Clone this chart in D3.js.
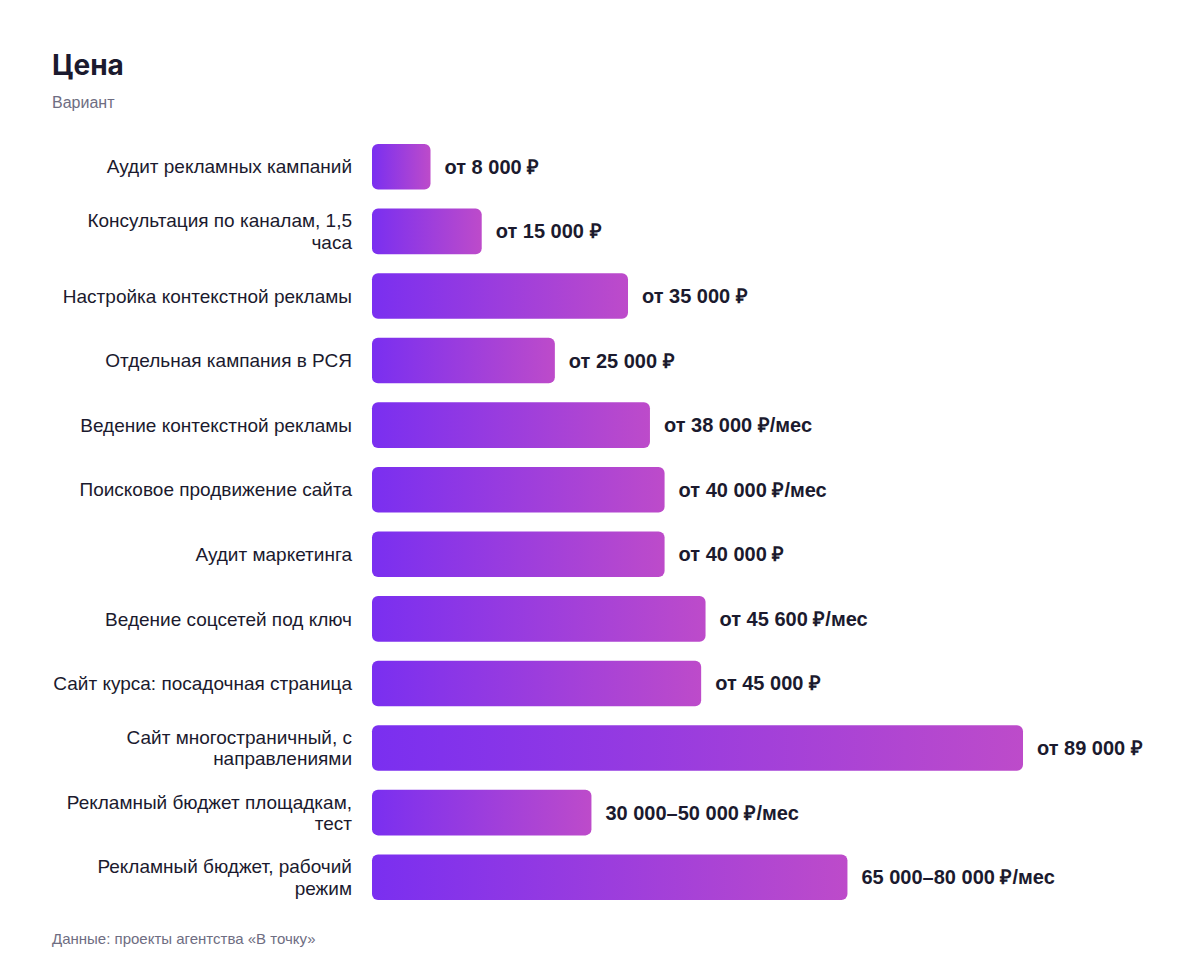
<!DOCTYPE html>
<html>
<head>
<meta charset="utf-8">
<script src="https://cdn.jsdelivr.net/npm/d3@7"></script>
<style>
  html, body { margin: 0; padding: 0; background: #ffffff; }
  svg { display: block; }
</style>
</head>
<body>
<svg id="chart" width="1200" height="968"></svg>
<script>
// ---- Data ----
const categories = [
  "Аудит рекламных кампаний",
  "Консультация по каналам, 1,5 часа",
  "Настройка контекстной рекламы",
  "Отдельная кампания в РСЯ",
  "Ведение контекстной рекламы",
  "Поисковое продвижение сайта",
  "Аудит маркетинга",
  "Ведение соцсетей под ключ",
  "Сайт курса: посадочная страница",
  "Сайт многостраничный, с направлениями",
  "Рекламный бюджет площадкам, тест",
  "Рекламный бюджет, рабочий режим"
];
const values = [8000, 15000, 35000, 25000, 38000, 40000, 40000, 45600, 45000, 89000, 30000, 65000];
const valueLabels = [
  "от 8 000 ₽",
  "от 15 000 ₽",
  "от 35 000 ₽",
  "от 25 000 ₽",
  "от 38 000 ₽/мес",
  "от 40 000 ₽/мес",
  "от 40 000 ₽",
  "от 45 600 ₽/мес",
  "от 45 000 ₽",
  "от 89 000 ₽",
  "30 000–50 000 ₽/мес",
  "65 000–80 000 ₽/мес"
];
const title = "Цена";
const subtitle = "Вариант";
const source = "Данные: проекты агентства «В точку»";

// ---- Layout ----
const svg = d3.select("#chart");
const plotLeft = 372, plotTop = 135, plotBottom = 909;
const barAreaWidth = 651;

const x = d3.scaleLinear().domain([0, d3.max(values)]).range([0, barAreaWidth]);
const y = d3.scaleBand().domain(categories).range([plotTop, plotBottom]).paddingInner(0.295).paddingOuter(0.14);

const defs = svg.append("defs");
const grad = defs.append("linearGradient").attr("id", "barGrad")
  .attr("x1", "0%").attr("x2", "100%").attr("y1", "0%").attr("y2", "0%");
grad.append("stop").attr("offset", "0%").attr("stop-color", "#7a2ff0");
grad.append("stop").attr("offset", "100%").attr("stop-color", "#bd4bca");

svg.append("text").attr("x", 52).attr("y", 75)
  .attr("font-family", "Inter, 'Liberation Sans', sans-serif")
  .attr("font-weight", 700).attr("font-size", 28).attr("fill", "#1b1a2e").text(title);
svg.append("text").attr("x", 52).attr("y", 108)
  .attr("font-family", "'Liberation Sans', Arial, sans-serif")
  .attr("font-size", 16).attr("fill", "#6e6d82").text(subtitle);

const rows = categories.map((c, i) => ({ c, v: values[i], l: valueLabels[i] }));

const g = svg.append("g");
g.selectAll("rect.bar").data(rows).join("rect")
  .attr("class", "bar")
  .attr("x", plotLeft)
  .attr("y", d => y(d.c))
  .attr("width", d => x(d.v))
  .attr("height", y.bandwidth())
  .attr("rx", 6).attr("ry", 6)
  .attr("fill", "url(#barGrad)");

g.selectAll("text.val").data(rows).join("text")
  .attr("class", "val")
  .attr("x", d => plotLeft + x(d.v) + 14)
  .attr("y", d => y(d.c) + y.bandwidth() / 2)
  .attr("dy", "0.35em")
  .attr("font-family", "'Liberation Sans', Arial, sans-serif")
  .attr("font-weight", 700).attr("font-size", 20).attr("fill", "#1b1a2e")
  .text(d => d.l);

// category labels with wrapping
const maxLabelWidth = 302;
const catFont = 19, lineH = 21.5;
const labels = g.selectAll("text.cat").data(rows).join("text")
  .attr("class", "cat")
  .attr("text-anchor", "end")
  .attr("font-family", "'Liberation Sans', Arial, sans-serif")
  .attr("font-size", catFont).attr("fill", "#1b1a2e");

labels.each(function(d) {
  const t = d3.select(this);
  const words = d.c.split(" ");
  const lines = [];
  let cur = "";
  const probe = t.append("tspan");
  words.forEach(w => {
    const test = cur ? cur + " " + w : w;
    probe.text(test);
    if (probe.node().getComputedTextLength() > maxLabelWidth && cur) {
      lines.push(cur); cur = w;
    } else cur = test;
  });
  lines.push(cur);
  probe.remove();
  const cy = y(d.c) + y.bandwidth() / 2;
  const startY = cy - (lines.length - 1) * lineH / 2;
  lines.forEach((ln, i) => {
    t.append("tspan").attr("x", 352).attr("y", startY + i * lineH).attr("dy", "0.35em").text(ln);
  });
});

svg.append("text").attr("x", 52).attr("y", 944)
  .attr("font-family", "'Liberation Sans', Arial, sans-serif")
  .attr("font-size", 15).attr("fill", "#6e6d82").text(source);
</script>
</body>
</html>
